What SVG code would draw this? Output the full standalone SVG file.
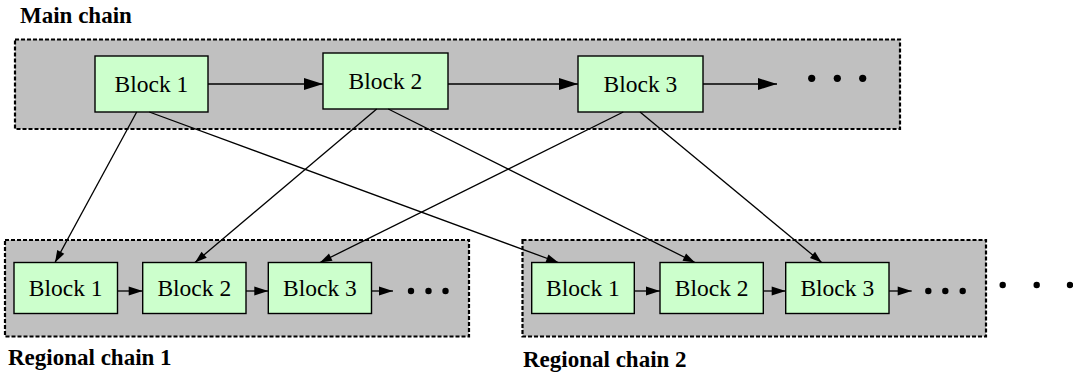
<svg xmlns="http://www.w3.org/2000/svg" width="1073" height="377" viewBox="0 0 1073 377">
  <style>
    .cluster { fill: #c0c0c0; stroke: #000; stroke-width: 2.2; stroke-dasharray: 4 2; }
    .block rect { fill: #ccffcc; stroke: #000; stroke-width: 1.4; }
    .block text { font-family: 'Liberation Serif', 'DejaVu Serif', serif; font-size: 23.5px; text-anchor: middle; fill: #000; }
    .label { font-family: 'Liberation Serif', 'DejaVu Serif', serif; font-size: 23px; font-weight: bold; fill: #000; }
    .edge { stroke: #000; stroke-width: 1.3; fill: none; }
    .dot { fill: #000; }
  </style>
  <defs>
    <marker id="arrL" markerUnits="userSpaceOnUse" markerWidth="20" markerHeight="13" refX="19" refY="6" orient="auto" overflow="visible">
      <path d="M0,0 L19,6 L0,12 Z" fill="#000"/>
    </marker>
    <marker id="arrM" markerUnits="userSpaceOnUse" markerWidth="15" markerHeight="10" refX="14" refY="4.5" orient="auto" overflow="visible">
      <path d="M0,0 L14,4.5 L0,9 Z" fill="#000"/>
    </marker>
    <marker id="arrS" markerUnits="userSpaceOnUse" markerWidth="13" markerHeight="9" refX="12" refY="4" orient="auto" overflow="visible">
      <path d="M0,0 L12,4 L0,8 Z" fill="#000"/>
    </marker>
  </defs>

  <!-- chain containers -->
  <g id="main-chain">
    <rect class="cluster" x="15" y="39.5" width="885" height="89.5"/>
    <text class="label" x="20" y="23">Main chain</text>
  </g>
  <g id="regional-chain-1">
    <rect class="cluster" x="5" y="240" width="464" height="96.5"/>
    <text class="label" x="8" y="365">Regional chain 1</text>
  </g>
  <g id="regional-chain-2">
    <rect class="cluster" x="522.5" y="240" width="463.5" height="96.5"/>
    <text class="label" x="523" y="367">Regional chain 2</text>
  </g>

  <!-- main chain blocks -->
  <g id="m1" class="block">
    <rect x="95" y="56" width="113" height="56"/>
    <text x="151.5" y="92">Block 1</text>
  </g>
  <g id="m2" class="block">
    <rect x="323" y="53" width="125" height="56"/>
    <text x="385.5" y="89">Block 2</text>
  </g>
  <g id="m3" class="block">
    <rect x="578" y="56" width="125" height="56"/>
    <text x="640.5" y="92">Block 3</text>
  </g>

  <!-- regional chain 1 blocks -->
  <g id="r1b1" class="block">
    <rect x="14" y="262.5" width="103.5" height="51"/>
    <text x="65.7" y="296">Block 1</text>
  </g>
  <g id="r1b2" class="block">
    <rect x="142.7" y="262.5" width="103.3" height="51"/>
    <text x="194.3" y="296">Block 2</text>
  </g>
  <g id="r1b3" class="block">
    <rect x="268.3" y="262.5" width="103.2" height="51"/>
    <text x="320" y="296">Block 3</text>
  </g>

  <!-- regional chain 2 blocks -->
  <g id="r2b1" class="block">
    <rect x="531.7" y="262.5" width="102.6" height="51"/>
    <text x="583" y="296">Block 1</text>
  </g>
  <g id="r2b2" class="block">
    <rect x="660" y="262.5" width="103.3" height="51"/>
    <text x="711.7" y="296">Block 2</text>
  </g>
  <g id="r2b3" class="block">
    <rect x="785.7" y="262.5" width="103.3" height="51"/>
    <text x="837.3" y="296">Block 3</text>
  </g>

  <!-- continuation dots -->
  <g id="more">
    <circle class="dot" cx="811.7" cy="78.3" r="3.6"/>
    <circle class="dot" cx="837.3" cy="78.3" r="3.6"/>
    <circle class="dot" cx="862.7" cy="78.3" r="3.6"/>
    <circle class="dot" cx="411" cy="291" r="3.2"/>
    <circle class="dot" cx="428.5" cy="291" r="3.2"/>
    <circle class="dot" cx="445.5" cy="291" r="3.2"/>
    <circle class="dot" cx="928.3" cy="291" r="3.2"/>
    <circle class="dot" cx="945.3" cy="291" r="3.2"/>
    <circle class="dot" cx="962.7" cy="291" r="3.2"/>
    <circle class="dot" cx="1002.7" cy="285" r="3.2"/>
    <circle class="dot" cx="1036.7" cy="285" r="3.2"/>
    <circle class="dot" cx="1070" cy="285" r="3.2"/>
  </g>

  <!-- connectors -->
  <g id="connectors">
    <line class="edge" x1="208" y1="84" x2="323" y2="84" marker-end="url(#arrL)"/>
    <line class="edge" x1="448" y1="84" x2="578" y2="84" marker-end="url(#arrL)"/>
    <line class="edge" x1="703" y1="84" x2="777" y2="84" marker-end="url(#arrL)"/>

    <line class="edge" x1="117.5" y1="291" x2="142.7" y2="291" marker-end="url(#arrM)"/>
    <line class="edge" x1="246" y1="291" x2="268.3" y2="291" marker-end="url(#arrM)"/>
    <line class="edge" x1="371.5" y1="291" x2="393" y2="291" marker-end="url(#arrM)"/>

    <line class="edge" x1="634.3" y1="291" x2="660" y2="291" marker-end="url(#arrM)"/>
    <line class="edge" x1="763.3" y1="291" x2="785.7" y2="291" marker-end="url(#arrM)"/>
    <line class="edge" x1="889" y1="291" x2="911.7" y2="291" marker-end="url(#arrM)"/>

    <line class="edge" x1="136.7" y1="112" x2="55" y2="262.5" marker-end="url(#arrS)"/>
    <line class="edge" x1="149.3" y1="112" x2="558.3" y2="262.5" marker-end="url(#arrS)"/>
    <line class="edge" x1="376.7" y1="109" x2="195" y2="262.5" marker-end="url(#arrS)"/>
    <line class="edge" x1="388.3" y1="109" x2="695" y2="262.5" marker-end="url(#arrS)"/>
    <line class="edge" x1="623.3" y1="112" x2="320" y2="262.5" marker-end="url(#arrS)"/>
    <line class="edge" x1="640" y1="112" x2="821.7" y2="262.5" marker-end="url(#arrS)"/>
  </g>
</svg>
